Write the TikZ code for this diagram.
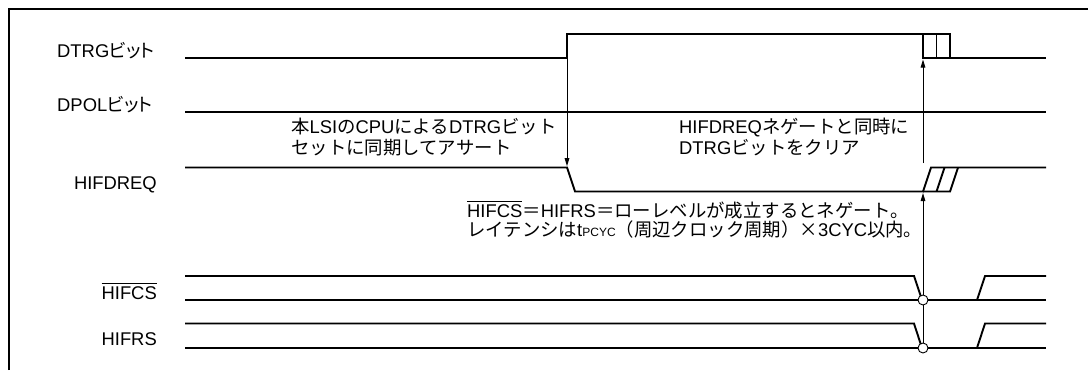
\documentclass[tikz,border=0pt]{standalone}
\usepackage{fontspec}
\setmainfont{Liberation Sans}
\newfontfamily\cjk{Noto Sans CJK JP}
\newfontfamily\cjkp[RawFeature=+palt]{Noto Sans CJK JP}
\usetikzlibrary{arrows.meta}
\newcommand\myovl[1]{\setbox0\hbox{#1}\rlap{\rule[\dimexpr\ht0+2.5pt\relax]{\wd0}{0.9pt}}\box0}
\begin{document}
\begin{tikzpicture}[x=1pt,y=-1pt,
  sig/.style={line width=1.9pt,line join=miter},
  frame/.style={line width=2pt},
  arr/.style={line width=0.9pt,-{Triangle[length=8pt,width=4.6pt]}},
  thinl/.style={line width=0.9pt},
  pt/.style={circle,draw,line width=0.9pt,fill=white,minimum size=10pt,inner sep=0pt},
  txt/.style={inner sep=0pt,font=\fontsize{18.4}{21}\selectfont}]
\useasboundingbox (0,0) rectangle (1088,370);
\draw[frame] (9,370) -- (9,9) -- (1088,9);
% DTRG
\draw[sig] (185,58) -- (567,58) -- (567,34) -- (950,34) -- (950,58) -- (1046,58);
\draw[sig] (923,34) -- (923,58) -- (950,58);
\draw[sig] (936.5,34) -- (936.5,58);
% DPOL
\draw[sig] (185,112) -- (1046,112);
% HIFDREQ
\draw[sig] (185,167.5) -- (567,167.5) -- (575,191.5) -- (923,191.5) -- (931,167.5) -- (1046,167.5);
\draw[sig] (923,191.5) -- (950,191.5) -- (958,167.5);
\draw[sig] (936.5,191.5) -- (944.5,167.5);
% HIFCS
\draw[sig] (185,300) -- (1046,300);
\draw[sig] (185,276) -- (914,276) -- (922,300);
\draw[sig] (977,300) -- (985,276) -- (1046,276);
% HIFRS
\draw[sig] (185,348) -- (1046,348);
\draw[sig] (185,323.5) -- (914,323.5) -- (922,348);
\draw[sig] (977,348) -- (985,323.5) -- (1046,323.5);
% arrows
\coordinate (dtrgup) at (567,58);
\coordinate (dreqhi) at (567,166.2);
\draw[arr] (dtrgup) -- (dreqhi);
\coordinate (dreqrise) at (923,163);
\coordinate (dtrgclr) at (923,59.5);
\draw[arr] (dreqrise) -- (dtrgclr);
\node[pt] (c1) at (923,300) {};
\node[pt] (c2) at (923,348) {};
\coordinate (dreqlow) at (923,193);
\draw[arr] (c1) -- (dreqlow);
\draw[thinl] (c1) -- (c2);
% labels
\node[txt,anchor=base west] (ldtrg) at (57,57) {DTRG{\cjkp ビット}};
\node[txt,anchor=base west] (ldpol) at (57,111) {DPOL{\cjkp ビット}};
\node[txt,anchor=base east] (ldreq) at (157,189) {HIFDREQ};
\node[txt,anchor=base east] (lcs) at (157,299) {\myovl{HIFCS}};
\node[txt,anchor=base east] (lrs) at (157,345.5) {HIFRS};
% annotations
\node[txt,anchor=base west] (a1a) at (291,133) {{\cjk 本}LSI{\cjk の}CPU{\cjk による}DTRG{\cjk ビット}};
\node[txt,anchor=base west] (a1b) at (291,154) {{\cjk セットに同期してアサート}};
\node[txt,anchor=base west] (a2a) at (679,133.5) {HIFDREQ{\cjk ネゲートと同時に}};
\node[txt,anchor=base west] (a2b) at (679,154.5) {DTRG{\cjk ビットをクリア}};
\node[txt,anchor=base west] (a3a) at (467,217) {\myovl{HIFCS}{\cjk ＝}HIFRS{\cjk ＝ローレベルが成立するとネゲート。}};
\node[txt,anchor=base west] (a3b) at (467,236.5) {{\cjk レイテンシは}t{\fontsize{12}{14}\selectfont PCYC}{\cjk （周辺クロック周期）×}3CYC{\cjk 以内。}};
\end{tikzpicture}
\end{document}
